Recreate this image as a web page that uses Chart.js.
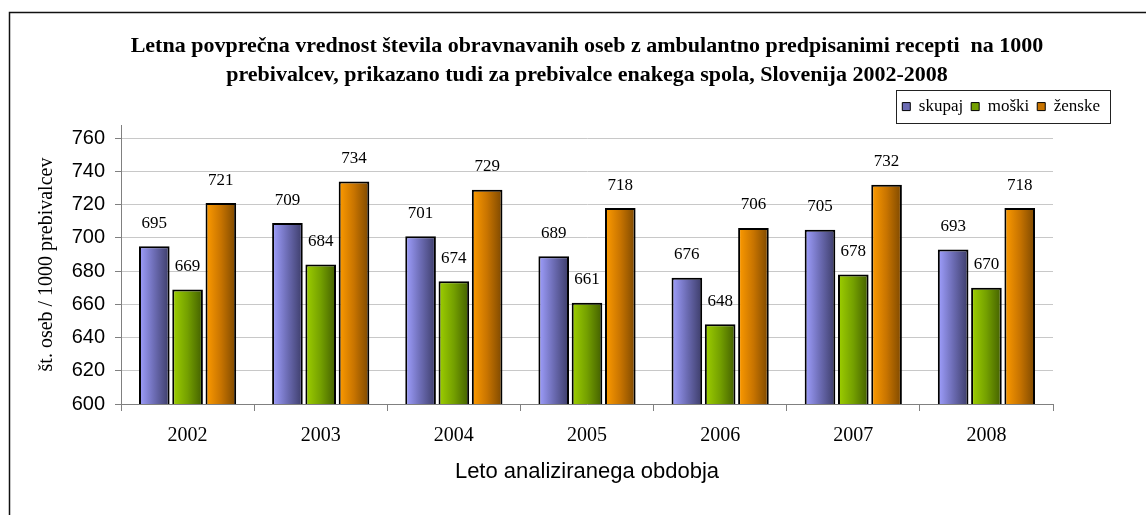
<!DOCTYPE html>
<html>
<head>
<meta charset="utf-8">
<title>Obravnavane osebe z ambulantnimi recepti</title>
<script src="https://cdn.jsdelivr.net/npm/chart.js@4.4.0/dist/chart.umd.min.js"></script>
<style>
    html, body { margin: 0; padding: 0; background: #fff; }
    canvas { display: block; }
</style>
</head>
<body>
<canvas id="rxChart" width="1146" height="515"></canvas>
<script>
// data
const years = ['2002', '2003', '2004', '2005', '2006', '2007', '2008'];
const skupaj = [695, 709, 701, 689, 676, 705, 693];
const moski = [669, 684, 674, 661, 648, 678, 670];
const zenske = [721, 734, 729, 718, 706, 732, 718];
const seriesNames = ['skupaj', 'moški', 'ženske'];
const yMin = 600;
const yMax = 768;
const yStep = 20;
const yLastTick = 760;

const titleLines = [
    'Letna povprečna vrednost števila obravnavanih oseb z ambulantno predpisanimi recepti  na 1000',
    'prebivalcev, prikazano tudi za prebivalce enakega spola, Slovenija 2002-2008'
];
const yTitle = 'št. oseb / 1000 prebivalcev';
const xTitle = 'Leto analiziranega obdobja';

const SERIF = '"Liberation Serif", "Times New Roman", serif';
const SANS = '"Liberation Sans", Arial, sans-serif';

// light -> mid -> dark, left to right across each bar
const palettes = [
    ['#a0a0ff', '#6c6cb4', '#3c3c68'],
    ['#9fd000', '#74a000', '#425e00'],
    ['#ff9c00', '#c87400', '#7c4800']
];

const CAT_PCT = 0.75;
const BAR_PCT = 0.92;

function barFill(ctx) {
    const chart = ctx.chart;
    const pal = palettes[ctx.datasetIndex];
    const xs = chart.scales.x;
    if (!chart.chartArea || !xs) return pal[1];
    const n = chart.data.datasets.length;
    const cat = xs.width / years.length;
    const slot = cat * CAT_PCT / n;
    const center = xs.getPixelForValue(ctx.dataIndex) + (ctx.datasetIndex - (n - 1) / 2) * slot;
    const w = slot * BAR_PCT;
    const g = chart.ctx.createLinearGradient(center - w / 2, 0, center + w / 2, 0);
    g.addColorStop(0, pal[0]);
    g.addColorStop(0.5, pal[1]);
    g.addColorStop(1, pal[2]);
    return g;
}

const valueLabels = {
    id: 'valueLabels',
    afterDatasetsDraw(chart) {
        const c = chart.ctx;
        c.save();
        c.font = '17px ' + SERIF;
        c.fillStyle = '#000';
        c.textAlign = 'center';
        c.textBaseline = 'middle';
        chart.data.datasets.forEach((ds, i) => {
            chart.getDatasetMeta(i).data.forEach((bar, j) => {
                c.fillText(ds.data[j], bar.x, bar.y - 23);
            });
        });
        c.restore();
    }
};

const frame = {
    id: 'frame',
    afterLayout(chart) {
        // centre the title over the plot area, like the original
        const t = chart.titleBlock;
        if (!t) return;
        const shift = (chart.chartArea.left + chart.chartArea.right) / 2 - (t.left + t.right) / 2;
        t.left += shift;
        t.right += shift;
    },
    beforeDraw(chart) {
        const c = chart.ctx;
        c.save();
        c.fillStyle = '#fff';
        c.fillRect(0, 0, chart.width, chart.height);
        c.strokeStyle = '#111';
        c.lineWidth = 1.5;
        c.beginPath();
        c.moveTo(9.5, chart.height);
        c.lineTo(9.5, 12.5);
        c.lineTo(chart.width, 12.5);
        c.stroke();
        c.restore();
    },
    afterDraw(chart) {
        const hb = chart.legend.legendHitBoxes;
        if (!hb || !hb.length) return;
        const last = hb[hb.length - 1];
        const left = hb[0].left - 6;
        const right = last.left + last.width + 10;
        const top = hb[0].top - 8;
        const bottom = hb[0].top + hb[0].height + 8;
        const c = chart.ctx;
        c.save();
        c.strokeStyle = '#222';
        c.lineWidth = 1;
        c.strokeRect(Math.round(left) + 0.5, Math.round(top) + 0.5, Math.round(right - left), Math.round(bottom - top));
        c.restore();
    }
};

const ctx = document.getElementById('rxChart').getContext('2d');
new Chart(ctx, {
    type: 'bar',
    data: {
        labels: years,
        datasets: [skupaj, moski, zenske].map((vals, i) => ({
            label: seriesNames[i],
            data: vals,
            backgroundColor: barFill,
            borderColor: '#000',
            borderWidth: 2,
            categoryPercentage: CAT_PCT,
            barPercentage: BAR_PCT
        }))
    },
    options: {
        responsive: false,
        animation: false,
        devicePixelRatio: 1,
        layout: { padding: { top: 28, left: 9, right: 38, bottom: 0 } },
        plugins: {
            title: {
                display: true,
                text: titleLines,
                color: '#000',
                font: { family: SERIF, size: 22, weight: 'bold', lineHeight: 1.32 },
                padding: { top: 3.5, bottom: 0.5 }
            },
            legend: {
                position: 'top',
                align: 'end',
                labels: {
                    color: '#000',
                    font: { family: SERIF, size: 17 },
                    boxWidth: 8,
                    boxHeight: 8,
                    padding: 8,
                    generateLabels(chart) {
                        return chart.data.datasets.map((ds, i) => ({
                            text: ds.label,
                            fillStyle: palettes[i][1],
                            strokeStyle: '#000',
                            lineWidth: 1,
                            datasetIndex: i,
                            hidden: false
                        }));
                    }
                }
            },
            tooltip: { enabled: false }
        },
        scales: {
            x: {
                grid: { display: true, drawOnChartArea: false, color: '#808080', tickLength: 7, offset: true },
                border: { color: '#808080' },
                ticks: { color: '#000', font: { family: SERIF, size: 20 }, padding: 13 },
                title: {
                    display: true,
                    text: xTitle,
                    color: '#000',
                    font: { family: SANS, size: 22 },
                    padding: { top: 4, bottom: 30 }
                },
                afterFit(scale) { scale.height = 111; }
            },
            y: {
                min: yMin,
                max: yMax,
                grid: { color: '#c8c8c8', tickColor: '#808080', tickLength: 6 },
                border: { color: '#808080' },
                ticks: {
                    color: '#000',
                    font: { family: SANS, size: 20 },
                    padding: 10
                },
                afterBuildTicks(scale) {
                    const ticks = [];
                    for (let v = yMin; v <= yLastTick; v += yStep) ticks.push({ value: v });
                    scale.ticks = ticks;
                },
                title: {
                    display: true,
                    text: yTitle,
                    color: '#000',
                    font: { family: SERIF, size: 20 },
                    padding: { top: 26, bottom: 0 }
                },
                afterFit(scale) { scale.width = 112; }
            },
            yRight: {
                position: 'right',
                display: true,
                grid: { display: false },
                border: { display: false },
                ticks: { display: false },
                afterFit(scale) { scale.width = 55; }
            }
        }
    },
    plugins: [frame, valueLabels]
});
</script>
</body>
</html>
